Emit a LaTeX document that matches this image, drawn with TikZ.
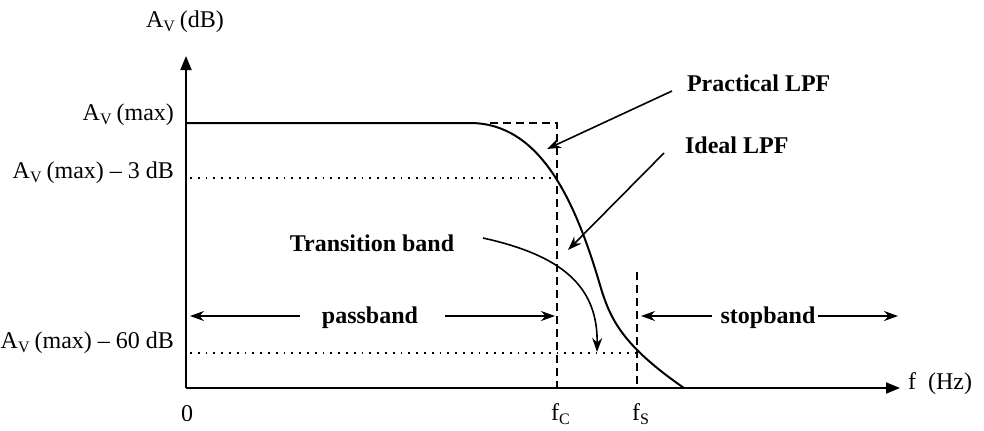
\documentclass[tikz,border=0pt]{standalone}
\usepackage{fontspec}
\setmainfont{Liberation Serif}
\usepackage{tikz}
\usetikzlibrary{arrows.meta,positioning}
\newcommand{\Av}{A\textsubscript{V}\,}

\begin{document}
\begin{tikzpicture}[x=0.5pt,y=-0.5pt,
  font=\fontsize{12}{14}\selectfont,
  axisline/.style={line width=1pt,-{Triangle[length=7pt,width=5.5pt]}},
  ideal/.style={line width=0.8pt,dash pattern=on 4pt off 2.5pt},
  guide/.style={line width=0.9pt,dash pattern=on 0.9pt off 3pt},
  ptr/.style={line width=0.8pt,-{Stealth[length=7pt,width=5pt]}},
  band/.style={line width=0.7pt,-{Stealth[length=7pt,width=5pt]}},
  tag/.style={font=\fontsize{12}{14}\selectfont\bfseries}]
\useasboundingbox (0,0) rectangle (984,430);

% axes
\coordinate (O) at (186,388);
\coordinate (ytop) at (186,56);
\coordinate (xend) at (900,388);
\draw[axisline] (O) -- (ytop);
\draw[axisline] (O) -- (xend);
\node (avdb) at (185,22) {\Av(dB)};
\node (fhz) at (940,384) {f\ \ (Hz)};
\node (zero) at (187,414) {0};

% levels
\node[anchor=east] (lmax) at (181,115) {\Av(max)};
\node[anchor=east] (l3) at (181,173) {\Av(max) -- 3 dB};
\node[anchor=east] (l60) at (181,343) {\Av(max) -- 60 dB};
\coordinate (p3) at (555,178);
\coordinate (p60) at (637,353);
\draw[guide] (190,178) -- (p3);
\draw[guide] (190,353) -- (p60);

% cut-off and stop frequencies
\coordinate (fc) at (557,388);
\coordinate (fctop) at (557,123);
\coordinate (fs) at (637,388);
\coordinate (fstop) at (637,272);
\node (lfc) at (561,414) {f\textsubscript{C}};
\node (lfs) at (641,414) {f\textsubscript{S}};
\draw[ideal] (490,123) -- (fctop) -- (fc);
\draw[ideal] (fstop) -- (fs);

% response
\draw[line width=1pt] (186,123) -- (470,123)
  .. controls (540,123) and (575,200) .. (600,285)
  .. controls (610,319) and (622,345) .. (684,388);

% labels
\node[tag,anchor=west] (prac) at (680,83) {Practical LPF};
\node[tag,anchor=west] (idl) at (678,145) {Ideal LPF};
\node[tag] (trans) at (372,243) {Transition band};
\coordinate (pracend) at (547,149);
\coordinate (idlend) at (568,250);
\coordinate (transend) at (597,352);
\draw[ptr] (672,91) -- (pracend);
\draw[ptr] (664,153) -- (idlend);
\draw[ptr] (483,238) .. controls (560,255) and (598,285) .. (transend);

% bands
\node (pass) at (370,318) {\bfseries passband};
\node (stop) at (768,318) {\bfseries stopband};
\draw[band] (300,316) -- (190,316);
\draw[band] (445,316) -- (555,316);
\draw[band] (712,316) -- (641,316);
\draw[band] (818,316) -- (898,316);
\end{tikzpicture}
\end{document}
